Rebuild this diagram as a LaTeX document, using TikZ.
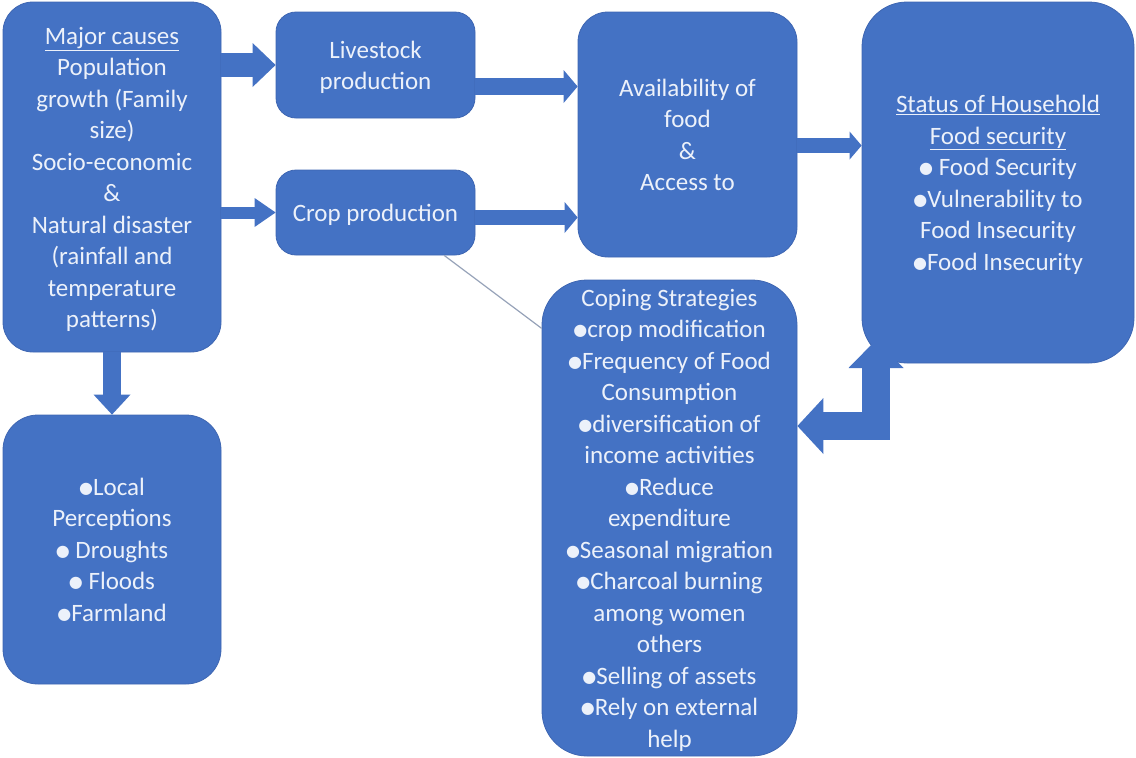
\documentclass[tikz,border=0pt]{standalone}
\usepackage{fontspec}
\setmainfont{Carlito}
\newfontfamily\symb[Scale=0.64]{DejaVu Sans}
\usetikzlibrary{arrows.meta}
\newlength{\du}
\setlength{\du}{1\unitlength}
\newcommand{\bul}{\raisebox{2\du}{\symb ●}}
\newcommand{\btext}[1]{\raisebox{-2.5\du}[\height][\depth]{\begin{tabular}{@{}c@{}}#1\end{tabular}}}
\definecolor{boxblue}{RGB}{68,114,196}
\definecolor{boxedge}{RGB}{62,102,178}
\definecolor{boxtext}{RGB}{236,241,250}
\definecolor{thingray}{RGB}{150,162,184}
\tikzset{
  fbox/.style={rectangle, rounded corners=#1\du, fill=boxblue, draw=boxedge,
    line width=0.8\du, text=boxtext, inner sep=0pt,
    font=\fontsize{25}{31.5}\selectfont},
  fat/.style n args={3}{draw=boxblue, line width=#1\du,
    -{Triangle[width=#2pt,length=#3pt,line width=0pt]}}
}
\begin{document}
\begin{tikzpicture}
\pgftransformxscale{1.000000}
\pgftransformyscale{-1.000000}
\useasboundingbox (0\du,0\du) rectangle (1136\du,758\du);
% boxes
\node[fbox=30, minimum width=218\du, minimum height=350\du] (causes) at (112\du,177\du)
  {\btext{\underline{Major causes}\\Population\\growth (Family\\size)\\Socio-economic\\\&\\Natural disaster\\(rainfall and\\temperature\\patterns)}};
\node[fbox=20, minimum width=199\du, minimum height=106\du] (livestock) at (375.5\du,65\du)
  {\btext{Livestock\\production}};
\node[fbox=20, minimum width=199\du, minimum height=85\du] (crop) at (375.5\du,212.5\du)
  {\btext{Crop production}};
\node[fbox=30, minimum width=219\du, minimum height=245\du] (avail) at (687.5\du,134.5\du)
  {\btext{Availability of\\food\\\&\\Access to}};
\node[fbox=45, minimum width=272\du, minimum height=361\du] (status) at (998\du,182.5\du)
  {\btext{\underline{Status of Household}\\\underline{Food security}\\\bul{} Food Security\\\bul Vulnerability to\\Food Insecurity\\\bul Food Insecurity}};
\node[fbox=35, minimum width=218\du, minimum height=269\du] (percep) at (112\du,549.5\du)
  {\btext{\bul Local\\Perceptions\\\bul{} Droughts\\\bul{} Floods\\\bul Farmland}};
\node[fbox=45, minimum width=255\du, minimum height=476\du] (coping) at (669.5\du,518\du)
  {\btext{Coping Strategies\\\bul crop modification\\\bul Frequency of Food\\Consumption\\\bul diversification of\\income activities\\\bul Reduce\\expenditure\\\bul Seasonal migration\\\bul Charcoal burning\\among women\\others\\\bul Selling of assets\\\bul Rely on external\\help}};
\coordinate (bendtip) at (876\du,340\du);
% arrows
\draw[fat={24}{44}{23}] (causes.east |- livestock.west) -- (livestock.west);
\draw[fat={12}{29}{21}] (causes.east |- crop.west) -- (crop.west);
\draw[fat={17}{33}{14}] (livestock.east |- 0,86.5\du) -- (avail.west |- 0,86.5\du);
\draw[fat={15}{31}{13}] (crop.east |- 0,217.5\du) -- (avail.west |- 0,217.5\du);
\draw[fat={15}{28}{12}] (avail.east |- 0,145.5\du) -- (status.west |- 0,145.5\du);
\draw[fat={18}{37}{20}] (causes.south) -- (percep.north);
\draw[draw=boxblue, line width=28\du,
  {Triangle[width=56pt,length=26pt,line width=0pt]}-{Triangle[width=55pt,length=28pt,line width=0pt]}]
  (coping.east |- 0,426\du) -- (876\du,426\du) -- (bendtip);
\draw[thingray, line width=1.2\du] (crop.-32) -- (coping.124);
\end{tikzpicture}
\end{document}
